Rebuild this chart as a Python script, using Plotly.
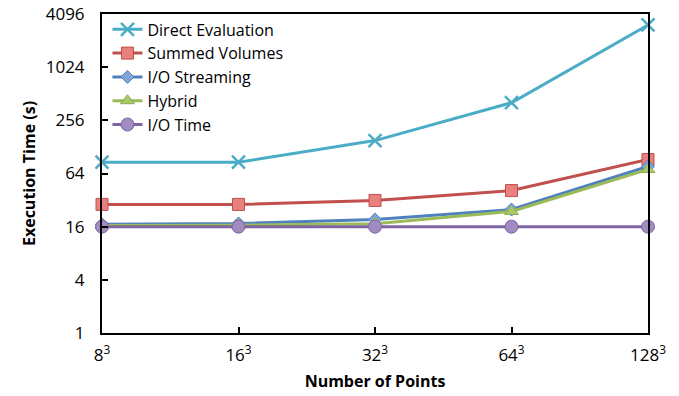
import plotly.graph_objects as go

# Problem sizes (points per side, cubed)
categories = ["8<sup>3</sup>", "16<sup>3</sup>", "32<sup>3</sup>", "64<sup>3</sup>", "128<sup>3</sup>"]

# Execution time in seconds for each method
direct_evaluation = [86, 86, 151, 405, 3080]
summed_volumes = [28.6, 28.6, 31.7, 41, 92]
io_streaming = [17, 17.4, 19.3, 25, 77]
hybrid = [16.5, 16.6, 17.3, 23.8, 71]
io_time = [16, 16, 16, 16, 16]

y_ticks = [1, 4, 16, 64, 256, 1024, 4096]

series = [
    ("Direct Evaluation", direct_evaluation, "#4BACC6",
     dict(symbol="x-thin", size=13, line=dict(color="#4BACC6", width=2.5))),
    ("Summed Volumes", summed_volumes, "#C0504D",
     dict(symbol="square", size=12, color="#E8807D", line=dict(color="#C0504D", width=1))),
    ("I/O Streaming", io_streaming, "#4F81BD",
     dict(symbol="diamond", size=10, color="#7FA6D6", line=dict(color="#4F81BD", width=1))),
    ("Hybrid", hybrid, "#9BBB59",
     dict(symbol="triangle-up", size=12, color="#A9C96A", line=dict(color="#8DAA4E", width=1))),
    ("I/O Time", io_time, "#8064A2",
     dict(symbol="circle", size=13, color="#A08CC0", line=dict(color="#8064A2", width=1))),
]

x_idx = list(range(len(categories)))

fig = go.Figure()
for name, vals, color, marker in series:
    fig.add_trace(go.Scatter(
        x=x_idx, y=vals, name=name, mode="lines+markers",
        line=dict(color=color, width=3),
        marker=marker,
        cliponaxis=False,
    ))

font_family = "Open Sans, sans-serif"

fig.update_layout(
    width=679, height=396,
    margin=dict(l=102, r=31, t=12, b=63),
    paper_bgcolor="white", plot_bgcolor="white",
    font=dict(family=font_family, color="black", size=17),
    showlegend=True,
    legend=dict(
        x=0.01, y=1.005, xanchor="left", yanchor="top",
        bgcolor="rgba(0,0,0,0)",
        font=dict(size=16, family=font_family),
        itemwidth=30,
    ),
    xaxis=dict(
        range=[0, 4],
        automargin=False,
        tickmode="array", tickvals=x_idx, ticktext=categories,
        ticks="inside", ticklen=6, tickwidth=2, tickcolor="black",
        ticklabelstandoff=6, ticklabeloverflow="allow",
        showline=True, linecolor="black", linewidth=2, mirror=True,
        showgrid=False, zeroline=False,
        tickfont=dict(size=17),
        title=dict(text="<b>Number of Points</b>", font=dict(size=16), standoff=10),
    ),
    yaxis=dict(
        type="log",
        automargin=False,
        range=[0, 3.6123599965],
        tickmode="array", tickvals=y_ticks, ticktext=[str(v) for v in y_ticks],
        ticks="inside", ticklen=6, tickwidth=2, tickcolor="black",
        ticklabelstandoff=12, ticklabeloverflow="allow",
        showline=True, linecolor="black", linewidth=2, mirror=True,
        showgrid=False, zeroline=False,
        tickfont=dict(size=17),
        title=dict(text="<b>Execution Time (s)</b>", font=dict(size=16), standoff=6),
    ),
)

fig.write_html("out.html")
